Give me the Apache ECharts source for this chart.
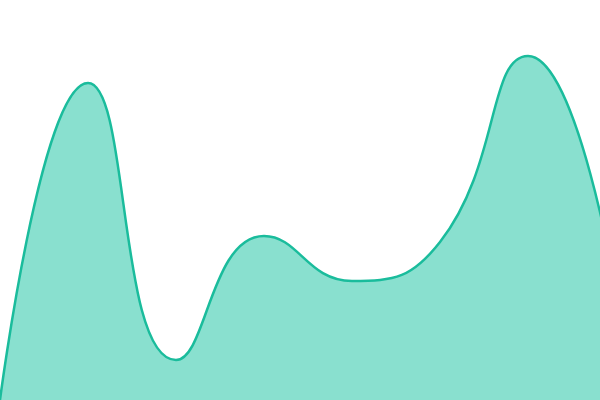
<!DOCTYPE html>
<html><head><meta charset="utf-8">
<script src="https://cdn.jsdelivr.net/npm/echarts@6/dist/echarts.min.js"></script>
<style>html,body{margin:0;padding:0;background:#fff;overflow:hidden}#w{width:600px;height:400px;overflow:hidden}#c{width:616px;height:400px}</style>
</head><body><div id="w"><div id="c"></div></div>
<script>
const categories = ['A','B','C','D','E','F','G','H'];
const values = [0, 317, 40, 164, 119, 158, 344, 110];
const chart = echarts.init(document.getElementById('c'));
chart.setOption({
  animation: false,
  grid: {left: 0, right: 0, top: 0, bottom: 0},
  xAxis: {type: 'category', data: categories, boundaryGap: false, show: false},
  yAxis: {type: 'value', min: 0, max: 400, show: false},
  series: [{
    type: 'line', data: values, smooth: true, symbol: 'none',
    lineStyle: {color: '#1abc9c', width: 2.5},
    areaStyle: {color: '#89e0cf', opacity: 1}
  }]
});
</script></body></html>
